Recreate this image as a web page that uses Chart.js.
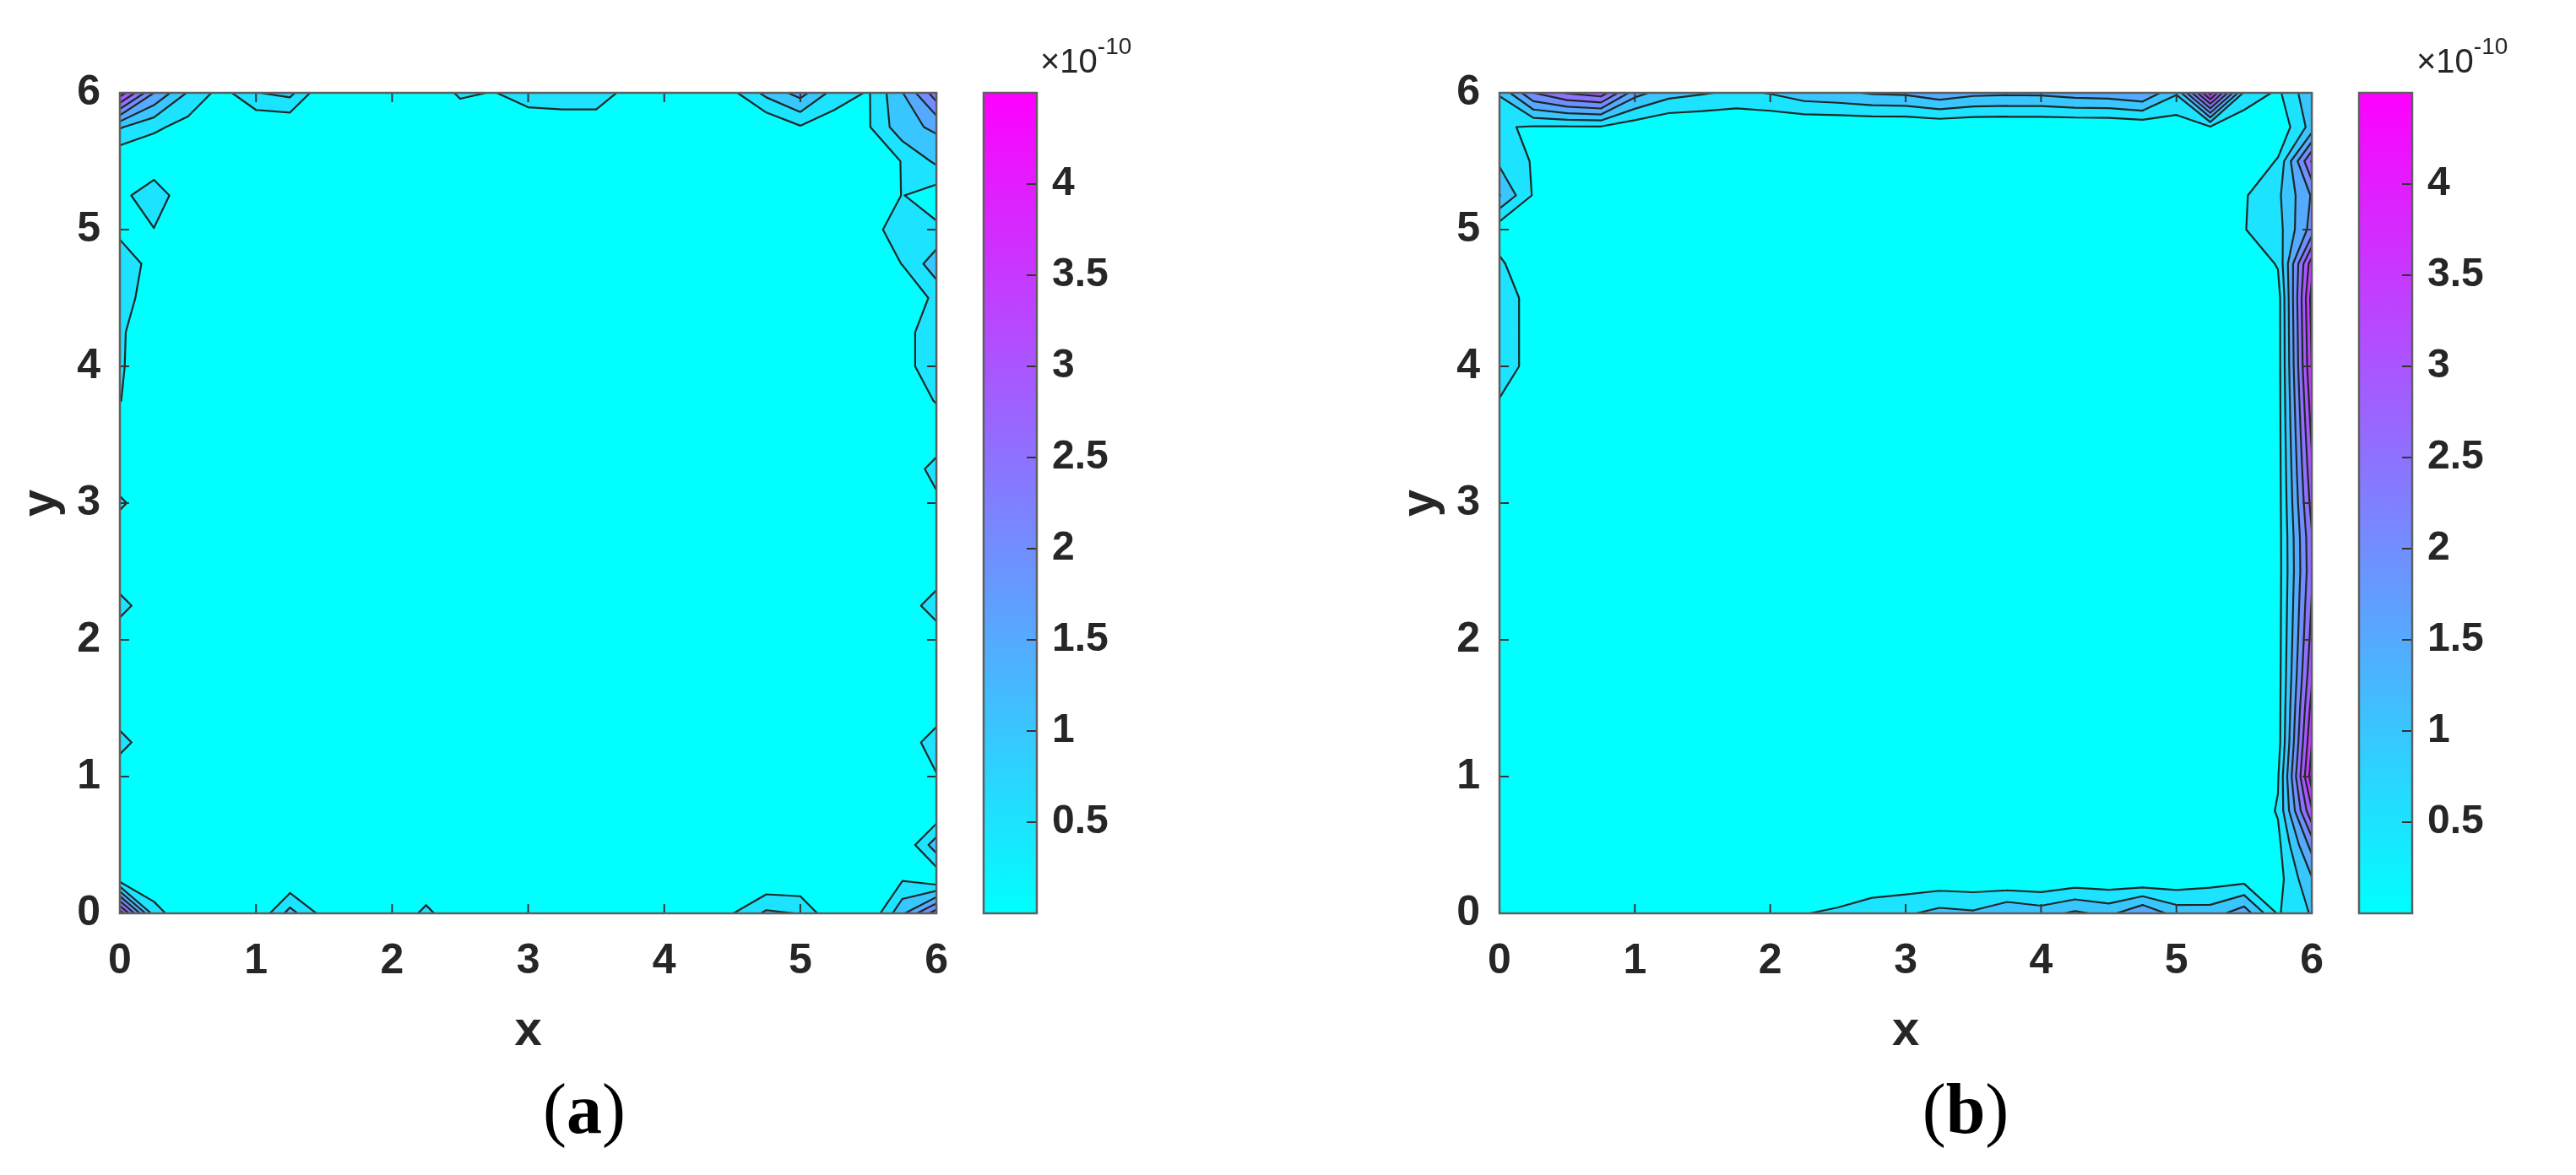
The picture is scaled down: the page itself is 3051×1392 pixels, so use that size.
<!DOCTYPE html>
<html>
<head>
<meta charset="utf-8">
<script src="https://cdn.jsdelivr.net/npm/chart.js@4.4.1/dist/chart.umd.min.js"></script>
<style>
  body { margin: 0; background: #fff; }
  #fig { position: relative; width: 3051px; height: 1392px; overflow: hidden; background: #fff; }
  #fig canvas { position: absolute; top: 0; }
  .cap { position: absolute; font-family: 'Liberation Serif', serif; font-size: 84px; line-height: 1; color: #000; transform: translate(-50%, -50%); white-space: nowrap; }
  .expo { position: absolute; font-family: 'Liberation Sans', Arial, sans-serif; font-size: 40px; line-height: 1; color: #262626; white-space: nowrap; }
  .expo sup { font-size: 28px; vertical-align: 0; position: relative; top: -22px; }
</style>
</head>
<body>
<div id="fig">
  <canvas id="plotA" width="1150" height="1300" style="left:0px"></canvas>
  <canvas id="barA" width="230" height="1300" style="left:1140px"></canvas>
  <canvas id="plotB" width="1145" height="1300" style="left:1634px"></canvas>
  <canvas id="barB" width="230" height="1300" style="left:2769px"></canvas>
  <div class="expo" style="left:1232px; top:52px">&times;10<sup>-10</sup></div>
  <div class="expo" style="left:2862px; top:52px">&times;10<sup>-10</sup></div>
  <div class="cap" style="left:692px; top:1314px">(<b>a</b>)</div>
  <div class="cap" style="left:2328px; top:1314px">(<b>b</b>)</div>
</div>
<script>
// ===== grid nodes, ticks and contour levels (values in units of 1e-10) =====
const gridPos = [0, 0.25, 0.5, 0.75, 1, 1.25, 1.5, 1.75, 2, 2.25, 2.5, 2.75, 3, 3.25, 3.5, 3.75, 4, 4.25, 4.5, 4.75, 5, 5.25, 5.5, 5.75, 6];
const axisTicks = [0, 1, 2, 3, 4, 5, 6];
const contourLevels = [0.5, 1, 1.5, 2, 2.5, 3, 3.5, 4];
const cbTicks = [0.5, 1, 1.5, 2, 2.5, 3, 3.5, 4];
const cbRange = [0, 4.5];
const backgroundValue = 0.02;

// ===== panel (a): nodes that differ from the background, [x, y, value] =====
const aTopEdge = [
  [0, 6, 3.8], [0.25, 6, 2.0], [0.5, 6, 0.95], [0.75, 6, 0.3], [1, 6, 0.98], [1.25, 6, 1.15], [1.5, 6, 0.05],
  [2.5, 6, 0.6], [2.75, 6, 0.47], [3, 6, 0.85], [3.25, 6, 0.95], [3.5, 6, 0.95], [3.75, 6, 0.2],
  [4.5, 6, 0.38], [4.75, 6, 1.15], [5, 6, 1.7], [5.25, 6, 0.8], [5.5, 6, 0.45], [5.75, 6, 1.48], [6, 6, 2.8],
  [0, 5.75, 1.05], [0.25, 5.75, 0.61], [0.5, 5.75, 0.3], [5, 5.75, 0.45], [5.25, 5.75, 0.2], [5.5, 5.75, 0.45],
  [5.75, 5.75, 1.33], [6, 5.75, 1.6]
];
const aRightEdge = [
  [6, 5.5, 1.1], [6, 5.25, 0.22], [6, 5, 0.6], [6, 4.75, 1.3], [6, 4.5, 0.65], [6, 4.25, 0.75], [6, 4, 0.75], [6, 3.75, 0.55],
  [6, 3.25, 0.75], [6, 3, 0.35], [6, 2.25, 0.9], [6, 1.25, 0.9], [6, 1, 0.45], [6, 0.5, 1.3], [6, 0.25, 0.06],
  [5.75, 5.5, 0.53], [5.75, 5.25, 0.52], [5.75, 5, 0.7], [5.75, 4.75, 0.52], [5.75, 4.25, 0.35], [5.75, 4, 0.35], [5.5, 5, 0.35]
];
const aBottomEdge = [
  [0, 0, 3.8], [0.25, 0, 0.75], [1.25, 0, 1.2], [1.5, 0, 0.3], [2.25, 0, 0.65], [4.5, 0, 0.48], [4.75, 0, 1.1], [5, 0, 0.98],
  [5.75, 0, 1.4], [6, 0, 2.8], [5.75, 0.25, 0.45]
];
const aLeftEdge = [
  [0, 5.25, 0.3], [0.25, 5.25, 0.9], [0, 5, 0.3], [0.25, 5, 0.48], [0, 4.75, 0.98], [0.25, 4.75, 0.22], [0, 4.5, 0.9],
  [0, 4.25, 0.6], [0, 4, 0.58], [0, 3.75, 0.52], [0, 3, 0.62], [0, 2.25, 0.75], [0, 1.25, 0.75], [0, 0.25, 0.21]
];

// ===== panel (b) =====
const bTopEdge = [
  [0, 6, 1.05], [0.25, 6, 2.5], [0.5, 6, 3.05], [0.75, 6, 3.3], [1, 6, 1.7], [1.25, 6, 1.2], [1.5, 6, 1.05], [1.75, 6, 0.9],
  [2, 6, 1.03], [2.25, 6, 1.31], [2.5, 6, 1.4], [2.75, 6, 1.55], [3, 6, 1.6], [3.25, 6, 1.86], [3.5, 6, 1.65], [3.75, 6, 1.6],
  [4, 6, 1.62], [4.25, 6, 1.75], [4.5, 6, 1.8], [4.75, 6, 1.98], [5, 6, 1.05], [5.25, 6, 4.2], [5.5, 6, 0.9], [5.75, 6, 0.4], [6, 6, 1.4],
  [0, 5.75, 0.55], [0.25, 5.75, 0.45], [0.5, 5.75, 0.45], [0.75, 5.75, 0.45], [1, 5.75, 0.2], [3.25, 5.75, 0.07],
  [4.75, 5.75, 0.1], [5, 5.75, 0.2], [5.25, 5.75, 0.45], [5.5, 5.75, 0.1], [5.75, 5.75, 0.1], [6, 5.75, 1.2]
];
const bRightEdge = [
  [6, 5.5, 3.05], [6, 5.25, 2.05], [6, 5, 2.2], [6, 4.75, 3.8], [6, 4.5, 4.2], [6, 4.25, 4.1], [6, 4, 4.02], [6, 3.75, 3.8],
  [6, 3.5, 3.6], [6, 3.25, 3.4], [6, 3, 3.2], [6, 2.75, 2.95], [6, 2.5, 2.9], [6, 2.25, 3.05], [6, 2, 3.2], [6, 1.75, 3.4],
  [6, 1.5, 3.7], [6, 1.25, 3.98], [6, 1, 4.3], [6, 0.75, 3.45], [6, 0.5, 2.2], [6, 0.25, 1.45], [6, 0, 1.05],
  [5.75, 5.5, 0.55], [5.75, 5.25, 0.9], [5.75, 5, 0.8], [5.75, 4.75, 0.55], [5.75, 4.5, 0.25], [5.75, 4.25, 0.25], [5.75, 4, 0.25],
  [5.75, 3.75, 0.25], [5.75, 3.5, 0.25], [5.75, 3.25, 0.25], [5.75, 3, 0.25], [5.75, 2.75, 0.25], [5.75, 2.5, 0.25], [5.75, 2.25, 0.25],
  [5.75, 2, 0.25], [5.75, 1.75, 0.25], [5.75, 1.5, 0.25], [5.75, 1.25, 0.25], [5.75, 1, 0.45], [5.75, 0.75, 0.55], [5.75, 0.5, 0.35],
  [5.75, 0.25, 0.3], [5.5, 5.25, 0.45], [5.5, 5, 0.48]
];
const bBottomEdge = [
  [2, 0, 0.2], [2.25, 0, 0.48], [2.5, 0, 0.6], [2.75, 0, 0.9], [3, 0, 0.93], [3.25, 0, 1.16], [3.5, 0, 1.08], [3.75, 0, 1.49],
  [4, 0, 1.28], [4.25, 0, 1.6], [4.5, 0, 1.36], [4.75, 0, 1.98], [5, 0, 1.28], [5.25, 0, 1.25], [5.5, 0, 1.8], [5.75, 0, 0.45],
  [3, 0.25, 0.15], [3.25, 0.25, 0.16], [3.5, 0.25, 0.14], [4.25, 0.25, 0.13], [4.5, 0.25, 0.11], [5, 0.25, 0.14],
  [5.25, 0.25, 0.25], [5.5, 0.25, 0.3]
];
const bLeftEdge = [
  [0, 5.5, 0.9], [0.25, 5.5, 0.45], [0, 5.25, 1.52], [0.25, 5.25, 0.45], [0, 5, 0.18], [0, 4.75, 0.6],
  [0, 4.5, 0.98], [0, 4.25, 0.98], [0, 4, 0.98], [0.25, 4.5, 0.15], [0.25, 4.25, 0.15], [0.25, 4, 0.15], [0, 3.75, 0.46]
];

// ===== style =====
const textColor = '#262626';
const tickFont = { family: "'Liberation Sans', Arial, sans-serif", size: 50, weight: 'bold' };
const labelFont = { family: "'Liberation Sans', Arial, sans-serif", size: 58, weight: 'bold' };
const cbFont = { family: "'Liberation Sans', Arial, sans-serif", size: 48, weight: 'bold' };
const plotTop = 110;
const canvasH = 1300;
const plotBottom = 1082;

function buildField(groups) {
  const z = gridPos.map(() => gridPos.map(() => backgroundValue));
  groups.forEach(list => list.forEach(([x, y, v]) => {
    const i = gridPos.indexOf(x), j = gridPos.indexOf(y);
    z[j][i] = Math.max(z[j][i], v);
  }));
  return z;
}

// MATLAB "cool" colormap
function coolColor(v) {
  const t = Math.min(1, Math.max(0, (v - cbRange[0]) / (cbRange[1] - cbRange[0])));
  return 'rgb(' + Math.round(255 * t) + ',' + Math.round(255 * (1 - t)) + ',255)';
}

// ===== filled contours (marching squares) drawn through the chart scales =====
function makeContourPlugin(field) {
  return {
    id: 'contourFill',
    beforeDatasetsDraw(chart) {
      const { ctx, chartArea: ca, scales: { x, y } } = chart;
      const px = gridPos.map(v => x.getPixelForValue(v));
      const py = gridPos.map(v => y.getPixelForValue(v));
      const n = gridPos.length;
      const corner = (i, j) => ({ x: px[i], y: py[j], v: field[j][i] });
      const segments = [];

      ctx.save();
      ctx.beginPath();
      ctx.rect(ca.left, ca.top, ca.width, ca.height);
      ctx.clip();
      ctx.fillStyle = coolColor(cbRange[0]);
      ctx.fillRect(ca.left, ca.top, ca.width, ca.height);

      contourLevels.forEach(L => {
        ctx.beginPath();
        for (let j = 0; j < n - 1; j++) {
          for (let i = 0; i < n - 1; i++) {
            const c = [corner(i, j), corner(i + 1, j), corner(i + 1, j + 1), corner(i, j + 1)];
            const hi = c.map(p => p.v >= L);
            if (!hi.some(Boolean)) continue;
            const pts = [];
            const cross = [];
            for (let k = 0; k < 4; k++) {
              const a = c[k], b = c[(k + 1) % 4];
              if (hi[k]) pts.push(a);
              if (hi[k] !== hi[(k + 1) % 4]) {
                const t = (L - a.v) / (b.v - a.v);
                const p = { x: a.x + t * (b.x - a.x), y: a.y + t * (b.y - a.y) };
                pts.push(p);
                cross[k] = p;
              }
            }
            ctx.moveTo(pts[0].x, pts[0].y);
            for (let k = 1; k < pts.length; k++) ctx.lineTo(pts[k].x, pts[k].y);
            ctx.closePath();

            const edges = [0, 1, 2, 3].filter(k => cross[k]);
            if (edges.length === 2) {
              segments.push([cross[edges[0]], cross[edges[1]]]);
            } else if (edges.length === 4) {
              // saddle: cut off the two low corners
              for (let k = 0; k < 4; k++) {
                if (!hi[k]) segments.push([cross[(k + 3) % 4], cross[k]]);
              }
            }
          }
        }
        ctx.fillStyle = coolColor(L);
        ctx.fill();
      });

      ctx.beginPath();
      segments.forEach(([p, q]) => { ctx.moveTo(p.x, p.y); ctx.lineTo(q.x, q.y); });
      ctx.lineWidth = 2.2;
      ctx.lineCap = 'round';
      ctx.strokeStyle = '#1c2828';
      ctx.stroke();
      ctx.restore();
    }
  };
}

// box + inward tick marks like MATLAB axes
const axesFrame = {
  id: 'axesFrame',
  afterDatasetsDraw(chart) {
    const { ctx, chartArea: ca, scales: { x, y } } = chart;
    const len = 11;
    ctx.save();
    ctx.beginPath();
    axisTicks.forEach(v => {
      const tx = x.getPixelForValue(v);
      const ty = y.getPixelForValue(v);
      ctx.moveTo(tx, ca.bottom); ctx.lineTo(tx, ca.bottom - len);
      ctx.moveTo(tx, ca.top); ctx.lineTo(tx, ca.top + len);
      ctx.moveTo(ca.left, ty); ctx.lineTo(ca.left + len, ty);
      ctx.moveTo(ca.right, ty); ctx.lineTo(ca.right - len, ty);
    });
    ctx.lineWidth = 2;
    ctx.strokeStyle = '#333';
    ctx.stroke();
    ctx.lineWidth = 2.5;
    ctx.strokeStyle = 'rgb(95,95,95)';
    ctx.strokeRect(ca.left, ca.top, ca.width, ca.height);
    ctx.restore();
  }
};

const colorbarFrame = {
  id: 'colorbarFrame',
  afterDatasetsDraw(chart) {
    const { ctx, chartArea: ca, scales: { y } } = chart;
    ctx.save();
    ctx.beginPath();
    cbTicks.forEach(v => {
      const ty = y.getPixelForValue(v);
      ctx.moveTo(ca.right, ty); ctx.lineTo(ca.right - 12, ty);
    });
    ctx.lineWidth = 2;
    ctx.strokeStyle = '#333';
    ctx.stroke();
    ctx.lineWidth = 2.5;
    ctx.strokeStyle = 'rgb(95,95,95)';
    ctx.strokeRect(ca.left, ca.top, ca.width, ca.height);
    ctx.restore();
  }
};

function makePlot(canvasId, field) {
  new Chart(document.getElementById(canvasId), {
    type: 'scatter',
    data: { datasets: [{ data: [], pointRadius: 0 }] },
    options: {
      responsive: false,
      animation: false,
      devicePixelRatio: 1,
      events: [],
      layout: { padding: { left: 0, top: plotTop, right: 30, bottom: 0 } },
      plugins: { legend: { display: false }, tooltip: { enabled: false } },
      scales: {
        x: {
          type: 'linear', min: 0, max: 6,
          grid: { display: false, drawTicks: false },
          border: { display: false },
          afterBuildTicks: s => { s.ticks = axisTicks.map(v => ({ value: v })); },
          afterFit: s => { s.height = canvasH - plotBottom; },
          ticks: { font: tickFont, color: textColor, padding: 27, maxRotation: 0, autoSkip: false, callback: v => String(v) },
          title: { display: true, text: 'x', font: labelFont, color: textColor, padding: { top: 0, bottom: 43 } }
        },
        y: {
          type: 'linear', min: 0, max: 6,
          grid: { display: false, drawTicks: false },
          border: { display: false },
          afterBuildTicks: s => { s.ticks = axisTicks.map(v => ({ value: v })); },
          afterFit: s => { s.width = 142; },
          ticks: { font: tickFont, color: textColor, padding: 23, autoSkip: false, callback: v => String(v) },
          title: { display: true, text: 'y', font: labelFont, color: textColor, padding: { top: 14, bottom: 0 } }
        }
      }
    },
    plugins: [makeContourPlugin(field), axesFrame]
  });
}

function makeColorbar(canvasId) {
  const gradient = context => {
    const chart = context.chart;
    const yScale = chart.scales.y;
    if (!chart.chartArea || !yScale) return coolColor(cbRange[0]);
    const g = chart.ctx.createLinearGradient(0, yScale.getPixelForValue(cbRange[0]), 0, yScale.getPixelForValue(cbRange[1]));
    g.addColorStop(0, coolColor(cbRange[0]));
    g.addColorStop(1, coolColor(cbRange[1]));
    return g;
  };
  new Chart(document.getElementById(canvasId), {
    type: 'bar',
    data: {
      labels: ['colorbar'],
      datasets: [{ data: [[cbRange[0], cbRange[1]]], backgroundColor: gradient, borderWidth: 0, barPercentage: 1, categoryPercentage: 1 }]
    },
    options: {
      responsive: false,
      animation: false,
      devicePixelRatio: 1,
      events: [],
      layout: { padding: { left: 25, top: plotTop, right: 0, bottom: canvasH - plotBottom } },
      plugins: { legend: { display: false }, tooltip: { enabled: false } },
      scales: {
        x: { display: false },
        y: {
          position: 'right', min: cbRange[0], max: cbRange[1],
          grid: { display: false, drawTicks: false },
          border: { display: false },
          afterBuildTicks: s => { s.ticks = cbTicks.map(v => ({ value: v })); },
          afterFit: s => { s.width = 142; },
          ticks: { font: cbFont, color: textColor, padding: 18, autoSkip: false, callback: v => String(v) }
        }
      }
    },
    plugins: [colorbarFrame]
  });
}

makePlot('plotA', buildField([aTopEdge, aRightEdge, aBottomEdge, aLeftEdge]));
makeColorbar('barA');
makePlot('plotB', buildField([bTopEdge, bRightEdge, bBottomEdge, bLeftEdge]));
makeColorbar('barB');
</script>
</body>
</html>
